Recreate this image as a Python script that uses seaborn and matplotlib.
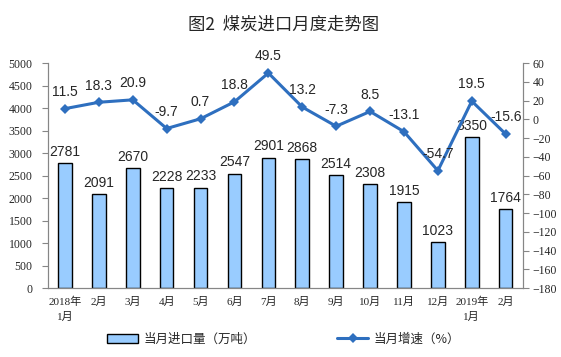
import numpy as np
import seaborn as sns
import matplotlib.pyplot as plt

# monthly coal imports (10k tonnes) and y/y growth (%)
months = ['2018-01', '2018-02', '2018-03', '2018-04', '2018-05', '2018-06', '2018-07',
          '2018-08', '2018-09', '2018-10', '2018-11', '2018-12', '2019-01', '2019-02']
tick_labels = ['2018年\n1月', '2月', '3月', '4月', '5月', '6月', '7月',
               '8月', '9月', '10月', '11月', '12月', '2019年\n1月', '2月']
imports = [2781, 2091, 2670, 2228, 2233, 2547, 2901, 2868, 2514, 2308, 1915, 1023, 3350, 1764]
growth = [11.5, 18.3, 20.9, -9.7, 0.7, 18.8, 49.5, 13.2, -7.3, 8.5, -13.1, -54.7, 19.5, -15.6]

sns.set_style('white')
plt.rcParams['font.family'] = ['Liberation Sans', 'Noto Sans CJK SC', 'DejaVu Sans']
serif = ['Liberation Serif', 'Noto Sans CJK SC', 'DejaVu Sans']
cjk = ['Noto Sans CJK SC', 'DejaVu Sans']

fig = plt.figure(figsize=(5.61, 3.57), dpi=100)
ax = fig.add_axes([0.0856, 0.193, 0.846, 0.630])

sns.barplot(x=months, y=imports, color='#99ccff', saturation=1, edgecolor='black',
            linewidth=1, width=0.4, ax=ax, label='当月进口量（万吨）')
ax.bar_label(ax.containers[0], padding=3, fontsize=10)

ax2 = ax.twinx()
x = np.arange(len(months))
sns.lineplot(x=x, y=growth, ax=ax2, color='#2e6fbf', linewidth=2.2, marker='D',
             markersize=5.5, markeredgewidth=0, label='当月增速（%）', legend=False)
for xi, g in zip(x, growth):
    ax2.annotate(f'{g}', (xi, g), xytext=(0, 7), textcoords='offset points',
                 ha='center', va='bottom', fontsize=10)

ax.set_xlim(-0.5, len(months) - 0.5)
ax.set_ylim(0, 5000)
ax.set_yticks(np.arange(0, 5001, 500))
ax2.set_ylim(-180, 60)
ax2.set_yticks(np.arange(-180, 61, 20))

ax.set_xticks(x)
ax.set_xticklabels(tick_labels, family=serif, fontsize=8, linespacing=1.6)
ax.set_xticks(np.arange(-0.5, len(months), 1), minor=True)
ax.tick_params(axis='x', which='major', length=0, pad=6)
ax.tick_params(axis='x', which='minor', length=3, color='#868686', direction='out')
for lab in ax.get_yticklabels():
    lab.set_family(serif)
for lab in ax2.get_yticklabels():
    lab.set_family(serif)
ax.tick_params(axis='y', labelsize=8.5, length=4, color='#868686', direction='out', left=True, pad=7)
ax2.tick_params(axis='y', labelsize=8.5, length=4, color='#868686', direction='out', right=True, pad=3)

for a in (ax, ax2):
    a.spines['top'].set_visible(False)
    for s in ('left', 'right', 'bottom'):
        a.spines[s].set_color('#868686')
        a.spines[s].set_linewidth(0.8)
ax.set_xlabel('')
ax.set_ylabel('')
ax2.set_ylabel('')
if ax.get_legend():
    ax.get_legend().remove()

h1, l1 = ax.get_legend_handles_labels()
h2, l2 = ax2.get_legend_handles_labels()
fig.legend(h1 + h2, l1 + l2, loc='center', bbox_to_anchor=(0.505, 0.05), ncol=2,
           frameon=False, prop={'family': cjk, 'size': 9}, columnspacing=6.5,
           handlelength=2.5, handletextpad=0.4)

fig.text(0.505, 0.93, '图2  煤炭进口月度走势图', ha='center', va='center',
         family=cjk, fontsize=12.5)

fig.savefig('out.png', dpi=100)
